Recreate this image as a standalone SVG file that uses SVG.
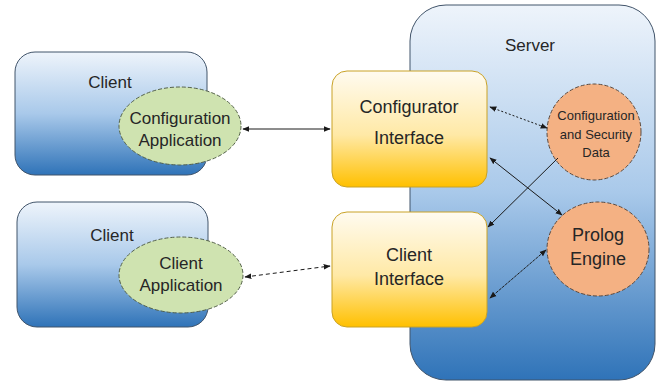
<svg xmlns="http://www.w3.org/2000/svg" width="663" height="384" viewBox="0 0 663 384">
<defs>
<linearGradient id="blue" x1="0" y1="0" x2="0" y2="1">
<stop offset="0" stop-color="#eef4fb"/>
<stop offset="0.5" stop-color="#a9c9ea"/>
<stop offset="1" stop-color="#2f73b8"/>
</linearGradient>
<linearGradient id="gold" x1="0" y1="0" x2="0" y2="1">
<stop offset="0" stop-color="#fffbf0"/>
<stop offset="0.55" stop-color="#ffe9a6"/>
<stop offset="1" stop-color="#ffc000"/>
</linearGradient>
<marker id="ah" viewBox="0 0 10 10" refX="9" refY="5" markerWidth="7" markerHeight="7" orient="auto-start-reverse" markerUnits="userSpaceOnUse">
<path d="M0,1 L10,5 L0,9 z" fill="#1a1a1a"/>
</marker>
<style>
.box{fill:url(#blue);stroke:#41546a;stroke-width:1}
.iface{fill:url(#gold);stroke:#c9a227;stroke-width:1}
.green{fill:#cfe3b0;stroke:#55624a;stroke-width:1;stroke-dasharray:4 2}
.orange{fill:#f4b183;stroke:#5b4a3f;stroke-width:1;stroke-dasharray:4 2}
text{font-family:"Liberation Sans",Arial,sans-serif;fill:#262626;text-anchor:middle}
.c{stroke:#1a1a1a;stroke-width:1;fill:none}
</style>
</defs>
<g id="server">
<rect x="410" y="5" width="245" height="375" rx="36" class="box"/>
<text x="530" y="51" font-size="17">Server</text>
</g>
<g id="client1">
<rect x="15" y="52" width="192" height="123" rx="20" class="box"/>
<text x="110" y="88" font-size="17">Client</text>
</g>
<g id="client2">
<rect x="17" y="202" width="191" height="125" rx="20" class="box"/>
<text x="112" y="241" font-size="17">Client</text>
</g>
<g id="configApp">
<ellipse cx="180" cy="126" rx="61" ry="39" class="green"/>
<text x="180" y="124" font-size="17">Configuration</text>
<text x="180" y="146" font-size="17">Application</text>
</g>
<g id="clientApp">
<ellipse cx="181" cy="275" rx="62" ry="38" class="green"/>
<text x="181" y="269" font-size="17">Client</text>
<text x="181" y="291" font-size="17">Application</text>
</g>
<g id="configuratorInterface">
<rect x="332" y="71" width="155" height="116" rx="15" class="iface"/>
<text x="409" y="113" font-size="18">Configurator</text>
<text x="409" y="144" font-size="18">Interface</text>
</g>
<g id="clientInterface">
<rect x="332" y="212" width="155" height="115" rx="15" class="iface"/>
<text x="409" y="261" font-size="18">Client</text>
<text x="409" y="285" font-size="18">Interface</text>
</g>
<g id="configData">
<ellipse cx="594" cy="132" rx="47" ry="48" class="orange"/>
<text x="596" y="120" font-size="13">Configuration</text>
<text x="596" y="139" font-size="13">and Security</text>
<text x="596" y="157" font-size="13">Data</text>
</g>
<g id="prolog">
<ellipse cx="598" cy="249" rx="51" ry="47" class="orange"/>
<text x="598" y="241" font-size="18">Prolog</text>
<text x="598" y="265" font-size="18">Engine</text>
</g>
<g id="connectors">
<line x1="243" y1="129" x2="330" y2="129" class="c" marker-start="url(#ah)" marker-end="url(#ah)"/>
<line x1="245" y1="277" x2="330" y2="266" class="c" stroke-dasharray="4 3" marker-start="url(#ah)" marker-end="url(#ah)"/>
<line x1="490" y1="107" x2="547" y2="128" class="c" stroke-dasharray="2 2" marker-start="url(#ah)" marker-end="url(#ah)"/>
<line x1="558" y1="158" x2="488" y2="227" class="c" marker-end="url(#ah)"/>
<line x1="490" y1="158" x2="562" y2="215" class="c" marker-start="url(#ah)" marker-end="url(#ah)"/>
<line x1="490" y1="298" x2="546" y2="250" class="c" stroke-dasharray="3 1" marker-start="url(#ah)" marker-end="url(#ah)"/>
</g>
</svg>
